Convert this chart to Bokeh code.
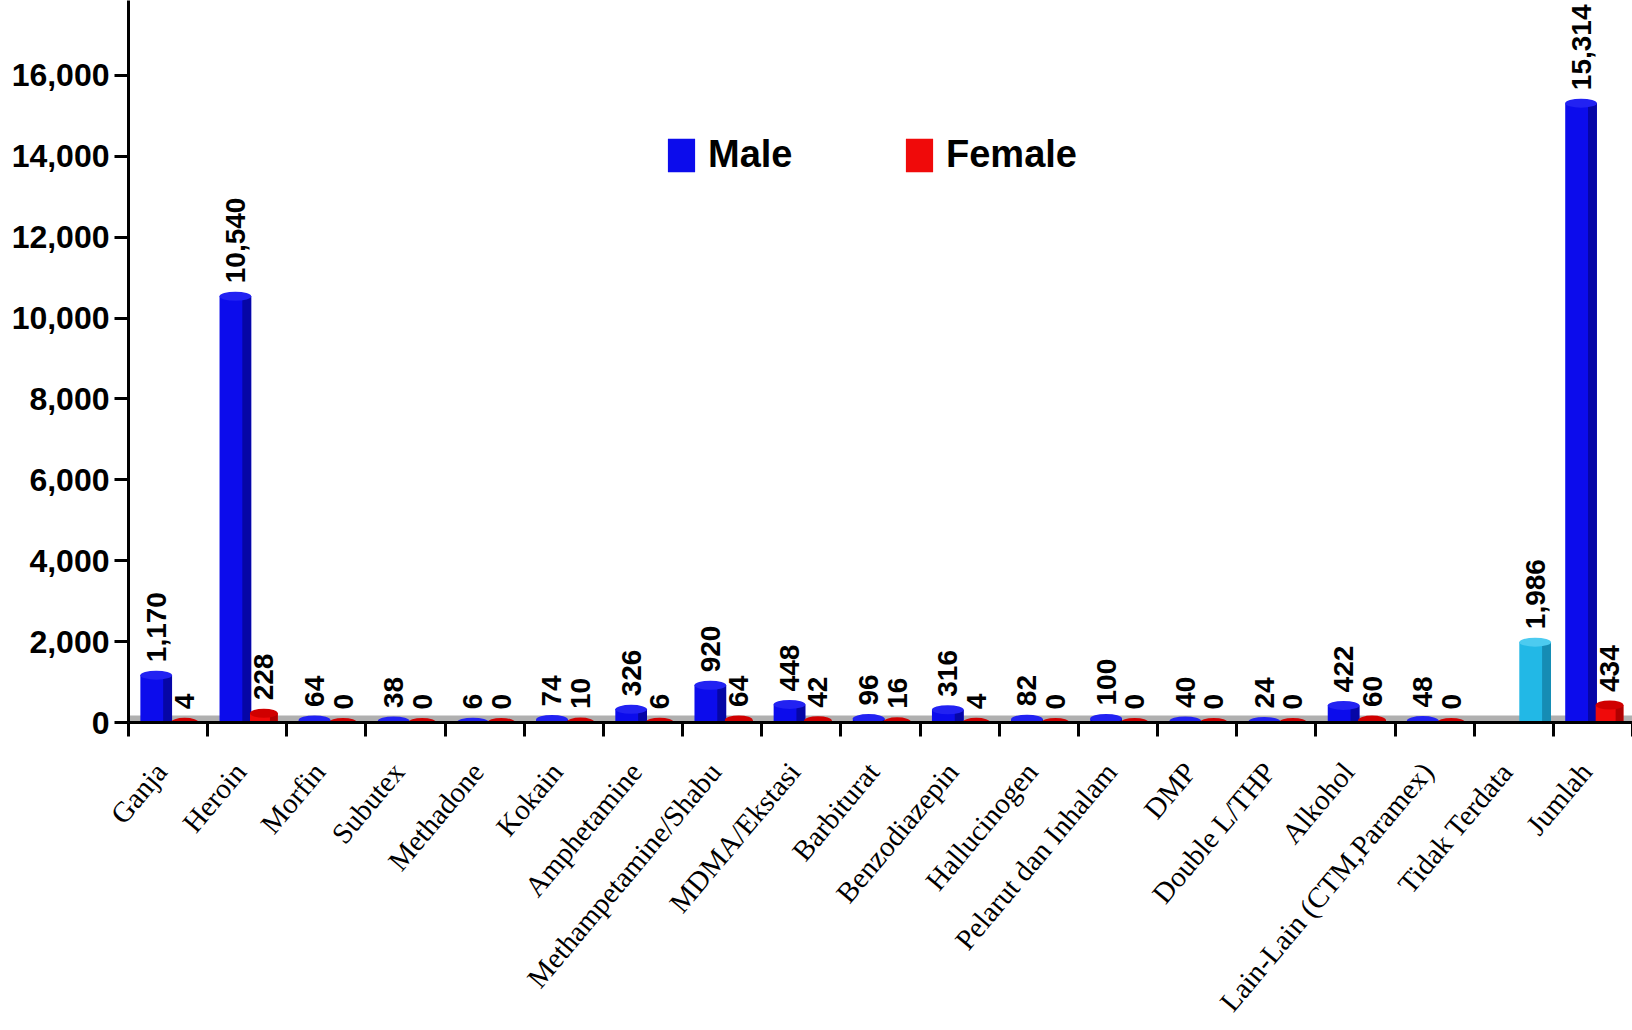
import math
from bokeh.plotting import figure
from bokeh.models import (ColumnDataSource, Range1d, FixedTicker, NumeralTickFormatter,
                          Legend, LegendItem, BoxAnnotation, LabelSet)
from bokeh.core.properties import value
from bokeh.embed import file_html
from bokeh.resources import INLINE

categories = ["Ganja", "Heroin", "Morfin", "Subutex", "Methadone", "Kokain", "Amphetamine",
              "Methampetamine/Shabu", "MDMA/Ekstasi", "Barbiturat", "Benzodiazepin",
              "Hallucinogen", "Pelarut dan Inhalam", "DMP", "Double L/THP", "Alkohol",
              "Lain-Lain (CTM,Paramex)", "Tidak Terdata", "Jumlah"]
male = [1170, 10540, 64, 38, 6, 74, 326, 920, 448, 96, 316, 82, 100, 40, 24, 422, 48, None, 15314]
female = [4, 228, 0, 0, 0, 10, 6, 64, 42, 16, 4, 0, 0, 0, 0, 60, 0, None, 434]
unrecorded_category = ["Tidak Terdata"]
unrecorded = [1986]
y_ticks = [0, 2000, 4000, 6000, 8000, 10000, 12000, 14000, 16000]

BLUE, BLUE_DARK, BLUE_CAP = "#0c0cec", "#0606a6", "#2222f2"
RED, RED_DARK, RED_CAP = "#f00a0a", "#b00000", "#d00000"
CYAN, CYAN_DARK, CYAN_CAP = "#22b8e6", "#168cb4", "#4ccbf0"

M_OFF, F_OFF, U_OFF = -0.15, 0.21, 0.27
M_W, F_W, U_W = 0.40, 0.35, 0.40


def build(values, cats, off, w):
    xs, xd, tops, labels = [], [], [], []
    for c, v in zip(cats, values):
        if v is None:
            continue
        x = categories.index(c) + 0.5 + off
        xs.append(x)
        xd.append(x + w * 0.36)
        tops.append(v)
        labels.append(f"{v:,}")
    return ColumnDataSource(dict(x=xs, xd=xd, top=tops, label=labels))


src_m = build(male, categories, M_OFF, M_W)
src_f = build(female, categories, F_OFF, F_W)
src_u = build(unrecorded, unrecorded_category, U_OFF, U_W)

p = figure(width=1632, height=1030, output_backend="svg", toolbar_location=None,
           x_range=Range1d(0, len(categories)), y_range=Range1d(0, 17852),
           min_border_left=128, min_border_right=0, min_border_top=0, min_border_bottom=307)
p.outline_line_color = None
p.xgrid.visible = False
p.ygrid.visible = False
p.background_fill_color = "white"

# 3D floor strip
p.add_layout(BoxAnnotation(bottom=0, top=175, fill_color="#b0b0b0", fill_alpha=1.0,
                           line_color=None, level="underlay"))

renderers = []
for src, w, c, cd, cc in ((src_m, M_W, BLUE, BLUE_DARK, BLUE_CAP),
                          (src_f, F_W, RED, RED_DARK, RED_CAP),
                          (src_u, U_W, CYAN, CYAN_DARK, CYAN_CAP)):
    r = p.vbar(x="x", top="top", width=w, bottom=0, source=src, fill_color=c, line_color=None)
    renderers.append(r)
    p.vbar(x="xd", top="top", width=w * 0.28, bottom=0, source=src, fill_color=cd, line_color=None)
    p.ellipse(x="x", y="top", width=w, height=9, height_units="screen", source=src,
              fill_color=cc, line_color=None)
    p.add_layout(LabelSet(x="x", y="top", text="label", source=src, angle=90, angle_units="deg",
                          text_align="left", text_baseline="middle", y_offset=13,
                          text_font=value("Liberation Sans"), text_font_style=value("bold"),
                          text_font_size=value("28px"), text_color=value("black")))
rm, rf, ru = renderers

# y axis
p.yaxis.ticker = FixedTicker(ticks=y_ticks)
p.yaxis.formatter = NumeralTickFormatter(format="0,0")
p.yaxis.major_label_text_font = "Liberation Sans"
p.yaxis.major_label_text_font_style = "bold"
p.yaxis.major_label_text_font_size = "32px"
p.yaxis.major_label_text_color = "black"
p.yaxis.major_tick_out = 14
p.yaxis.major_tick_in = 0
p.yaxis.major_tick_line_width = 3
p.yaxis.axis_line_width = 3
p.yaxis.major_label_standoff = 5
p.yaxis.minor_tick_line_color = None

# x axis: labels near category centres, ticks at category boundaries
label_pos = [i + 0.41 for i in range(len(categories))]
p.xaxis.ticker = FixedTicker(ticks=label_pos, minor_ticks=list(range(len(categories) + 1)))
p.xaxis.major_label_overrides = {c: name for c, name in zip(label_pos, categories)}
p.xaxis.major_tick_line_color = None
p.xaxis.major_tick_out = 0
p.xaxis.major_tick_in = 0
p.xaxis.minor_tick_line_color = "black"
p.xaxis.minor_tick_out = 14
p.xaxis.minor_tick_in = 0
p.xaxis.minor_tick_line_width = 3
p.xaxis.axis_line_width = 3
p.xaxis.major_label_orientation = 50 * math.pi / 180
p.xaxis.major_label_standoff = 30
p.xaxis.major_label_text_font = "Liberation Serif"
p.xaxis.major_label_text_font_size = "29px"
p.xaxis.major_label_text_color = "black"

for r, name, x in ((rm, "Male", 536), (rf, "Female", 774)):
    lg = Legend(items=[LegendItem(label=name, renderers=[r])], location=(x, 546),
                orientation="horizontal", glyph_width=34, glyph_height=42, label_standoff=10,
                padding=0, margin=0, border_line_color=None, background_fill_alpha=0,
                label_text_font="Liberation Sans", label_text_font_style="bold",
                label_text_font_size="38px", label_text_color="black")
    p.add_layout(lg, "center")

open("out.html", "w").write(file_html(p, INLINE))
